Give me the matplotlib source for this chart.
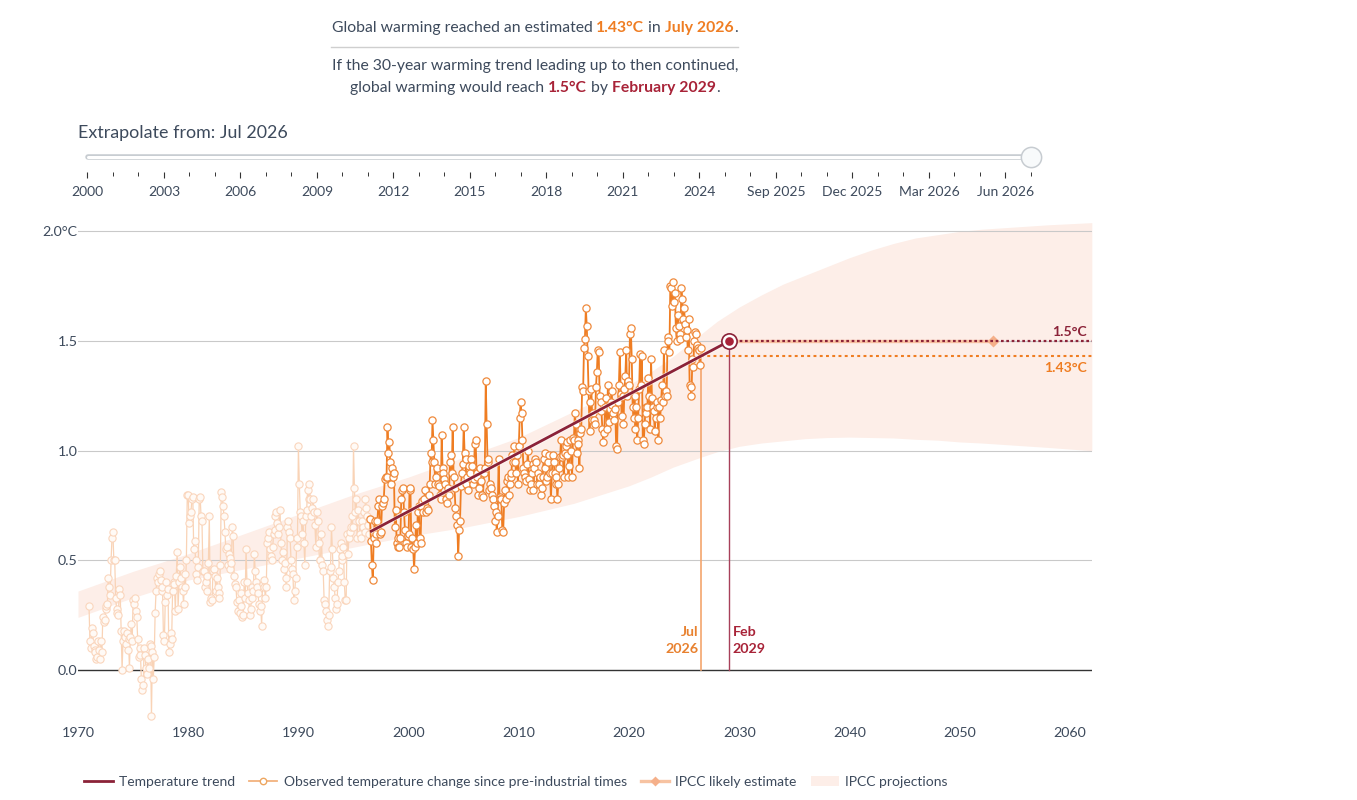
import numpy as np
import matplotlib
matplotlib.use("Agg")
import matplotlib.pyplot as plt
import matplotlib.patheffects as pe
from matplotlib.lines import Line2D
from matplotlib.patches import Patch

plt.rcParams['font.family'] = ['Lato', 'DejaVu Sans']

W, H = 1357, 800

# ---------- data ----------
obs_1970s = [
 .29,.13,.10,.19,.17,.11,.09,.08,.05,.06,.13,.09,
 .05,.13,.08,.24,.22,.23,.28,.29,.30,.42,.38,.34,
 .50,.60,.63,.50,.50,.33,.28,.26,.25,.37,.34,.18,
 .00,.13,.18,.15,.12,.17,.09,.14,.01,.15,.21,.13,
 .32,.30,.33,.27,.24,.14,.06,.10,.07,-.04,-.09,-.07,
 .10,.07,.01,-.02,.05,.01,.12,.11,-.21,.08,-.04,.06,
 .26,.36,.42,.40,.44,.45,.41,.36,.38,.16,.13,.31,
 .40,.34,.37,.08,.12,.17,.14,.36,.40,.39,.27,.43,
 .54,.28,.40,.47,.42,.38,.36,.30,.44,.38,.50,.80]
obs_1980s = [
 .80,.67,.70,.72,.78,.79,.55,.59,.50,.44,.41,.47,
 .78,.79,.70,.68,.45,.45,.38,.40,.43,.36,.49,.70,
 .31,.33,.32,.45,.46,.43,.36,.42,.38,.35,.33,.48,
 .81,.79,.75,.70,.63,.55,.56,.48,.53,.51,.46,.49,
 .65,.61,.43,.39,.38,.31,.27,.32,.26,.35,.29,.24,
 .25,.40,.33,.55,.40,.35,.32,.25,.28,.33,.38,.36,
 .53,.45,.40,.38,.35,.30,.27,.29,.20,.39,.41,.38,
 .33,.38,.58,.60,.63,.55,.52,.50,.56,.62,.64,.70,
 .72,.67,.62,.65,.73,.58,.50,.54,.46,.49,.42,.38,
 .65,.68,.63,.60,.50,.46,.44,.32,.36,.42,.56,.60]
obs_1990s = [
 1.02,.85,.72,.70,.62,.68,.58,.48,.70,.73,.82,.78,
 .85,.78,.70,.74,.78,.72,.66,.56,.72,.68,.58,.50,
 .50,.62,.48,.45,.32,.30,.27,.23,.20,.25,.45,.47,
 .65,.55,.42,.38,.33,.28,.30,.40,.45,.55,.58,.50,
 .52,.56,.40,.32,.32,.62,.53,.60,.63,.65,.70,.65,
 1.02,.83,.72,.78,.60,.73,.68,.62,.60,.68,.65,.72,
 .63,.78,.74,.70,.66,.62,.69,.59,.48,.41,.60,.68,
 .62,.58,.68,.75,.78,.62,.63,.75,.76,.78,.87,.88,
 .88,1.11,.99,1.04,.95,.85,.92,.88,.90,.65,.73,.58,
 .56,.60,.56,.60,.78,.82,.83,.72,.64,.58,.56,.61]
obs_2000s = [
 .62,.82,.83,.56,.60,.55,.46,.56,.66,.58,.72,.75,
 .60,.58,.75,.77,.72,.78,.82,.72,.74,.73,.80,.85,
 .99,.95,1.14,1.05,.95,.85,.88,.92,.85,.84,.80,.78,
 1.07,.92,.90,.87,.85,.78,.76,.83,.80,.95,.98,.90,
 1.11,.88,.83,.74,.70,.66,.52,.64,.68,.84,.90,.94,
 1.11,.99,.96,.85,.88,.82,.93,.90,.96,.93,.85,.87,
 1.03,1.05,.90,.88,.80,.83,.92,.86,.80,.79,.90,.92,
 1.32,1.12,.95,.96,.82,.85,.83,.80,.78,.75,.68,.72,
 .63,.70,.96,.79,.78,.78,.64,.63,.76,.82,.78,.86,
 .88,.80,.85,.88,.90,.98,.95,1.02,.95,.90,.98,.85]
obs_2010s = [
 1.02,1.15,1.22,1.17,1.05,.92,.90,.88,.86,.94,1.00,.87,
 .82,.85,.90,.94,.82,.92,.96,.95,.85,.90,.85,.88,
 .80,.83,.88,.96,.99,.92,.86,.88,.95,.98,.90,.78,
 .90,.98,.95,.90,.85,.88,.78,.85,.92,.97,1.05,.97,
 .98,.88,.99,1.02,1.04,.98,.88,.93,1.05,1.00,.88,1.06,
 1.05,1.17,1.12,.99,1.05,1.03,.92,1.08,1.10,1.29,1.27,1.47,
 1.51,1.65,1.57,1.43,1.27,1.09,1.22,1.28,1.14,1.17,1.14,1.12,
 1.29,1.36,1.46,1.45,1.25,1.22,1.18,1.10,1.04,1.08,1.20,1.24,
 1.10,1.30,1.13,1.19,1.22,1.27,1.21,1.17,1.14,1.19,1.02,1.01,
 1.22,1.30,1.45,1.26,1.16,1.25,1.12,1.28,1.34,1.46,1.25,1.32]
obs_2020s = [
 1.30,1.53,1.56,1.42,1.20,1.15,1.25,1.10,1.20,1.05,1.15,1.28,
 1.44,1.30,1.43,1.05,1.03,1.12,1.20,1.17,1.20,1.33,1.25,1.10,
 1.42,1.24,1.20,1.18,1.09,1.15,1.20,1.22,1.05,1.20,1.15,1.23,
 1.30,1.22,1.46,1.25,1.27,1.25,1.52,1.50,1.45,1.75,1.74,1.66,
 1.77,1.68,1.72,1.56,1.50,1.62,1.57,1.53,1.51,1.74,1.69,1.60,
 1.65,1.58,1.52,1.55,1.46,1.60,1.30,1.29,1.25,1.42,1.38,1.50,
 1.54,1.53,1.48,1.47,1.46,1.39,1.47]
start_year = 1971
extrapolate_index = 306  # first observation in the 30-year window (Jul 1996 is index 306)

band_years = [1970,1975,1980,1985,1990,1995,2000,2005,2010,2015,2020,2022,2024,2026.5,2028,2030,2032,2034,2036,2038,2040,2042,2044,2046,2048,2050,2052,2055,2058,2062]
band_lower = [.24,.33,.41,.46,.51,.56,.61,.65,.70,.76,.84,.88,.925,.97,.995,1.02,1.035,1.045,1.055,1.06,1.062,1.06,1.058,1.052,1.048,1.04,1.035,1.025,1.015,1.00]
band_upper = [.36,.45,.53,.62,.71,.80,.88,.97,1.06,1.18,1.30,1.36,1.43,1.53,1.59,1.655,1.71,1.76,1.80,1.84,1.88,1.915,1.945,1.97,1.985,2.00,2.01,2.02,2.03,2.04]

trend_x = [1996.5, 2029.1]
trend_y = [0.63, 1.50]
current_year, current_temp = 2026.5, 1.43
cross_year, cross_temp = 2029.1, 1.5
likely_year = 2053

x_ticks = [1970,1980,1990,2000,2010,2020,2030,2040,2050,2060]
y_ticks = [0,0.5,1.0,1.5,2.0]
y_labels = ['0.0','0.5','1.0','1.5','2.0°C']
slider_labels = ['2000','2003','2006','2009','2012','2015','2018','2021','2024',
                 'Sep 2025','Dec 2025','Mar 2026','Jun 2026']

TXT = '#3d4a5c'
ORANGE = '#ef7d22'
RED = '#a82338'
MAROON = '#8b2238'
GRID = '#c9c9c9'
BAND = '#fdeee8'

observed = np.array(obs_1970s + obs_1980s + obs_1990s + obs_2000s + obs_2010s + obs_2020s)
times = start_year + np.arange(len(observed)) / 12

fig = plt.figure(figsize=(W/100, H/100), dpi=100, facecolor='white')

def rect(l, t, r, b):
    return [l/W, 1-b/H, (r-l)/W, (b-t)/H]

# ---------- main chart ----------
px_year, px_unit = 11.02, 219.3
L, R, T, B = 78, 1092, 215, 722
ax = fig.add_axes(rect(L, T, R, B))
ax.set_xlim(1970, 1970 + (R-L)/px_year)
ax.set_ylim((670-B)/px_unit, (670-T)/px_unit)
for s in ax.spines.values():
    s.set_visible(False)
ax.set_xticks(x_ticks)
ax.set_yticks(y_ticks)
ax.set_yticklabels(y_labels)
ax.tick_params(length=0, labelcolor=TXT, labelsize=10.3)
ax.tick_params(axis='x', pad=3.3)
ax.tick_params(axis='y', pad=0.4)
ax.patch.set_alpha(0)

ax.fill_between(band_years, band_lower, band_upper, color=BAND, lw=0, zorder=1)
for v in y_ticks[1:]:
    ax.axhline(v, color=GRID, lw=0.8, zorder=1.5)
ax.axhline(0, color='#333333', lw=1.0, zorder=1.5)

c = extrapolate_index
ax.plot(times[:c+1], observed[:c+1], color='#f9d3b6', lw=0.9, marker='o', ms=5.2,
        mfc='#fffaf6', mec='#fad6bd', mew=0.8, zorder=2)

ax.plot([current_year]*2, [0, current_temp], color='#f4a56d', lw=1.2, zorder=2.5)
ax.plot([cross_year]*2, [0, cross_temp], color='#a8405a', lw=1.0, zorder=2.5)

ax.plot(times[c:], observed[c:], color=ORANGE, lw=1.3, marker='o', ms=5.2,
        mfc='white', mec='#ef8a3c', mew=0.9, zorder=3)

ax.plot(trend_x, trend_y, color=MAROON, lw=2.0, solid_capstyle='butt', zorder=4,
        path_effects=[pe.Stroke(linewidth=3.2, foreground='white', alpha=.6), pe.Normal()])

ax.plot([cross_year, likely_year], [cross_temp]*2, color='#f9c3a3', lw=2.4, zorder=2.6)
ax.plot([likely_year], [cross_temp], marker='D', ms=5.8, color='#f5b08a', mec='none', zorder=2.7)
ax.plot([cross_year, ax.get_xlim()[1]], [cross_temp]*2, color=MAROON, lw=1.6,
        ls=(0, (1.2, 1.2)), zorder=3)
ax.plot([current_year, ax.get_xlim()[1]], [current_temp]*2, color=ORANGE, lw=1.5,
        ls=(0, (1.4, 1.6)), zorder=3)

ax.plot([cross_year], [cross_temp], marker='o', ms=11, mfc='white', mec=MAROON, mew=1.2, zorder=5)
ax.plot([cross_year], [cross_temp], marker='o', ms=6.2, mfc=RED, mec='none', zorder=6)

def lab(px, py, s, color, ha, size=10.3):
    fig.text(px/W, 1-py/H, s, color=color, ha=ha, va='center', fontsize=size,
             fontweight='bold', linespacing=1.42)

lab(1087, 332.5, '1.5°C', MAROON, 'right', 10.1)
lab(1087, 367.5, '1.43°C', ORANGE, 'right', 10.1)
lab(698.5, 640.5, 'Jul\n2026', '#e8812f', 'right')
lab(732.5, 640.5, 'Feb\n2029', RED, 'left')

# ---------- slider ----------
sx = fig.add_axes(rect(78, 142, 1050, 172))
sx.patch.set_alpha(0)
sx.set_xlim((78-87.4)/25.5, (1050-87.4)/25.5)
sx.set_ylim(0, 1)
for k, s in sx.spines.items():
    s.set_visible(False)
sx.set_yticks([])
sx.set_xticks(np.arange(0, 37, 3))
sx.set_xticklabels(slider_labels)
sx.set_xticks(np.arange(0, 38), minor=True)
sx.tick_params(axis='x', which='major', length=4.4, width=0.8, color='#333333',
               labelcolor=TXT, labelsize=10, pad=5.9)
sx.tick_params(axis='x', which='minor', length=2.9, width=0.7, color='#333333')
sx.plot([0.02, 37], [.5, .5], color='#c7ccd1', lw=4.0, solid_capstyle='round', zorder=1)
sx.plot([0.02, 37], [.5, .5], color='white', lw=2.2, solid_capstyle='round', zorder=2)
sx.plot([37], [.5], marker='o', ms=14.6, mfc='#f8fafb', mec='#c7ccd1', mew=1.1, zorder=3,
        clip_on=False)

fig.text(78/W, 1-132.6/H, 'Extrapolate from: Jul 2026', color=TXT, fontsize=12.85,
         ha='left', va='center')

# ---------- headline with coloured runs ----------
def runs(cx, py, parts, size=11.35):
    r = fig.canvas.get_renderer()
    arts = []
    total = 0
    for s, col, bold in parts:
        t = fig.text(0, 1-py/H, s, color=col, fontsize=size, va='center_baseline', ha='left',
                     fontweight='bold' if bold else 'normal')
        g = fig.text(0, 0, s.replace(' ', '\u00a0'), fontsize=size,
                     fontweight='bold' if bold else 'normal')
        w = g.get_window_extent(r).width
        g.remove()
        arts.append((t, w))
        total += w
    x = cx - total/2
    for t, w in arts:
        t.set_x(x/W)
        x += w

runs(534.5, 26.5, [('Global warming reached an estimated ', TXT, False), ('1.43°C', ORANGE, True),
                   (' in ', TXT, False), ('July 2026', ORANGE, True), ('.', TXT, False)])
fig.add_artist(Line2D([331/W, 738/W], [1-46.5/H]*2, color='#cfcfcf', lw=1))
runs(535, 64.5, [('If the 30-year warming trend leading up to then continued,', TXT, False)])
runs(535, 86.5, [('global warming would reach ', TXT, False), ('1.5°C', RED, True), (' by ', TXT, False),
                 ('February 2029', RED, True), ('.', TXT, False)])

# ---------- legend ----------
handles = [
    Line2D([], [], color=MAROON, lw=2),
    Line2D([], [], color='#f2b27e', lw=1.3, marker='o', ms=4.6, mfc='white', mec='#eda660', mew=1),
    Line2D([], [], color='#f7c3a2', lw=2.4, marker='D', ms=5, mfc='#f5b08a', mec='none'),
    Patch(color=BAND, lw=0),
]
labels = ['Temperature trend', 'Observed temperature change since pre-industrial times',
          'IPCC likely estimate', 'IPCC projections']
fig.legend(handles, labels, loc='center left', bbox_to_anchor=(80/W, 1-782/H), ncol=4,
           frameon=False, fontsize=10, labelcolor=TXT, handlelength=2.05, handletextpad=0.45,
           columnspacing=1.0, borderpad=0.3, borderaxespad=0)

fig.savefig('out.png', dpi=100)
